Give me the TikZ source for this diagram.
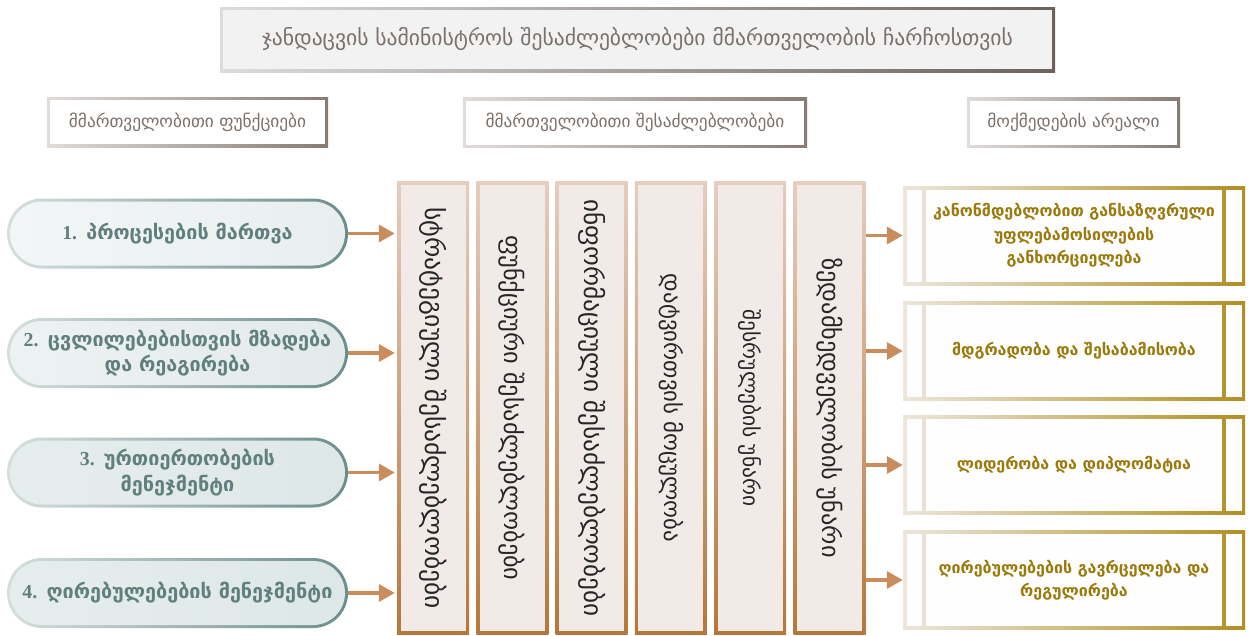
\documentclass[tikz,border=0pt]{standalone}
\usepackage{fontspec}
\setmainfont{DejaVu Sans}
\newfontfamily\numfont{Liberation Serif}
\usetikzlibrary{arrows.meta}

\definecolor{titleText}{HTML}{7B706A}
\definecolor{titleFill}{HTML}{F2F2F2}
\definecolor{titleL}{HTML}{DCDCDC}
\definecolor{titleR}{HTML}{6D625B}
\definecolor{hdrL}{HTML}{E0DCDA}
\definecolor{hdrR}{HTML}{877B73}
\definecolor{pillL}{HTML}{D5DFDE}
\definecolor{pillR}{HTML}{6B8E8B}
\definecolor{pillText}{HTML}{5F807D}
\definecolor{pillA}{HTML}{F3F6F6}
\definecolor{pillB}{HTML}{E8EEEE}
\definecolor{pillC}{HTML}{EDF2F2}
\definecolor{pillD}{HTML}{E3EAEA}
\definecolor{pillE}{HTML}{E6EDED}
\definecolor{pillF}{HTML}{DEE7E7}
\definecolor{colFill}{HTML}{F2EAE7}
\definecolor{colTop}{HTML}{E5CDBF}
\definecolor{colBot}{HTML}{B6773B}
\definecolor{arrowC}{HTML}{C98C5D}
\definecolor{rbL}{HTML}{ECE6DB}
\definecolor{rbR}{HTML}{B08F24}
\definecolor{rbFill}{HTML}{FEFEFE}
\definecolor{rbText}{HTML}{9A7A0B}

\tikzset{
  % rectangle whose frame is a horizontal gradient; #1 = colour prefix
  gframe/.style={inner sep=0pt, left color=#1L, right color=#1R},
  titlebox/.style={gframe=title, minimum width=835pt, minimum height=65pt,
    text=titleText, font=\fontsize{21.6}{26}\selectfont,
    path picture={\fill[titleFill]
      ([shift={(3pt,3pt)}]path picture bounding box.south west) rectangle
      ([shift={(-3pt,-3pt)}]path picture bounding box.north east);}},
  hdrbox/.style={gframe=hdr, minimum height=50pt,
    text=titleText, font=\fontsize{17.3}{21}\selectfont,
    path picture={\fill[white]
      ([shift={(3pt,3pt)}]path picture bounding box.south west) rectangle
      ([shift={(-3pt,-3pt)}]path picture bounding box.north east);}},
  pill/.style 2 args={inner sep=0pt, minimum width=341pt, minimum height=70pt,
    rounded corners=35pt, left color=pillL, right color=pillR,
    text=pillText, align=center, font=\bfseries\fontsize{19.8}{25.5}\selectfont,
    path picture={\shade[left color=#1, right color=#2, rounded corners=32pt]
      ([shift={(3pt,3pt)}]path picture bounding box.south west) rectangle
      ([shift={(-3pt,-3pt)}]path picture bounding box.north east);}},
  colbox/.style={inner sep=0pt, minimum width=72pt, minimum height=453pt,
    top color=colTop, bottom color=colBot, text=black!85,
    font=\fontsize{#1}{24}\selectfont,
    path picture={\fill[colFill]
      ([shift={(3.5pt,3.5pt)}]path picture bounding box.south west) rectangle
      ([shift={(-3.5pt,-3.5pt)}]path picture bounding box.north east);}},
  colbox/.default=22,
  rbox/.style={inner sep=0pt, minimum width=342pt, minimum height=99pt,
    left color=rbL, right color=rbR, text=rbText, align=center,
    font=\bfseries\fontsize{16}{23.5}\selectfont,
    path picture={
      \fill[rbFill]
        ([shift={(3.5pt,3.5pt)}]path picture bounding box.south west) rectangle
        ([shift={(19pt,-3.5pt)}]path picture bounding box.north west);
      \fill[rbFill]
        ([shift={(23pt,3.5pt)}]path picture bounding box.south west) rectangle
        ([shift={(-23pt,-3.5pt)}]path picture bounding box.north east);
      \fill[rbFill]
        ([shift={(-19pt,3.5pt)}]path picture bounding box.south east) rectangle
        ([shift={(-3.5pt,-3.5pt)}]path picture bounding box.north east);}},
  arr/.style={draw=arrowC, line width=3.5pt,
    -{Triangle[length=16pt,width=17pt]}}
}

\begin{document}
\begin{tikzpicture}[x=1pt,y=-1pt]
\useasboundingbox[fill=white] (0,0) rectangle (1251,635);

% title and column headers
\node[titlebox] (title) at (637.5,39.5)
  {ჯანდაცვის სამინისტროს შესაძლებლობები მმართველობის ჩარჩოსთვის};
\node[hdrbox, minimum width=281pt] (h1) at (187.5,122)
  {მმართველობითი ფუნქციები};
\node[hdrbox, minimum width=344pt] (h2) at (635,122.5)
  {მმართველობითი შესაძლებლობები};
\node[hdrbox, minimum width=213pt] (h3) at (1073.5,122.5)
  {მოქმედების არეალი};

% governance functions
\node[pill={pillA}{pillB}] (p1) at (177.5,233.5)
  {{\numfont 1.} პროცესების მართვა};
\node[pill={pillC}{pillD}] (p2) at (177.5,353)
  {{\numfont 2.} ცვლილებებისთვის მზადება\\და რეაგირება};
\node[pill={pillE}{pillF}] (p3) at (177.5,472.5)
  {{\numfont 3.} ურთიერთობების\\მენეჯმენტი};
\node[pill={pillE}{pillF}] (p4) at (177.5,593)
  {{\numfont 4.} ღირებულებების მენეჯმენტი};

% governance capacities, text running top to bottom
\node[colbox=25.5] (c1) at (433,408) {\rotatebox{-90}{სტრატეგიული შესაძლებლობები}};
\node[colbox=24.3] (c2) at (512.3,408) {\rotatebox{-90}{ფუნქციური შესაძლებლობები}};
\node[colbox=25.2] (c3) at (591.6,408) {\rotatebox{-90}{ინფორმაციული შესაძლებლობები}};
\node[colbox=22.8] (c4) at (670.9,408) {\rotatebox{-90}{დატვირთვის მოცულობა}};
\node[colbox=21.4] (c5) at (750.2,408) {\rotatebox{-90}{შესრულების უნარი}};
\node[colbox=24.3] (c6) at (829.5,408) {\rotatebox{-90}{ზედამხედველობის უნარი}};

% scope of action
\node[rbox] (r1) at (1074,235.5)
  {კანონმდებლობით განსაზღვრული\\უფლებამოსილების\\განხორციელება};
\node[rbox] (r2) at (1074,351) {მდგრადობა და შესაბამისობა};
\node[rbox] (r3) at (1074,465) {ლიდერობა და დიპლომატია};
\node[rbox] (r4) at (1074,580)
  {ღირებულებების გავრცელება და\\რეგულირება};

% connectors
\foreach \p in {p1,p2,p3,p4}
  \draw[arr, shorten >=2pt] (\p.east) -- (\p.east -| c1.west);
\foreach \r in {r1,r2,r3,r4}
  \draw[arr] (\r.west -| c6.east) -- (\r.west);
\end{tikzpicture}
\end{document}
